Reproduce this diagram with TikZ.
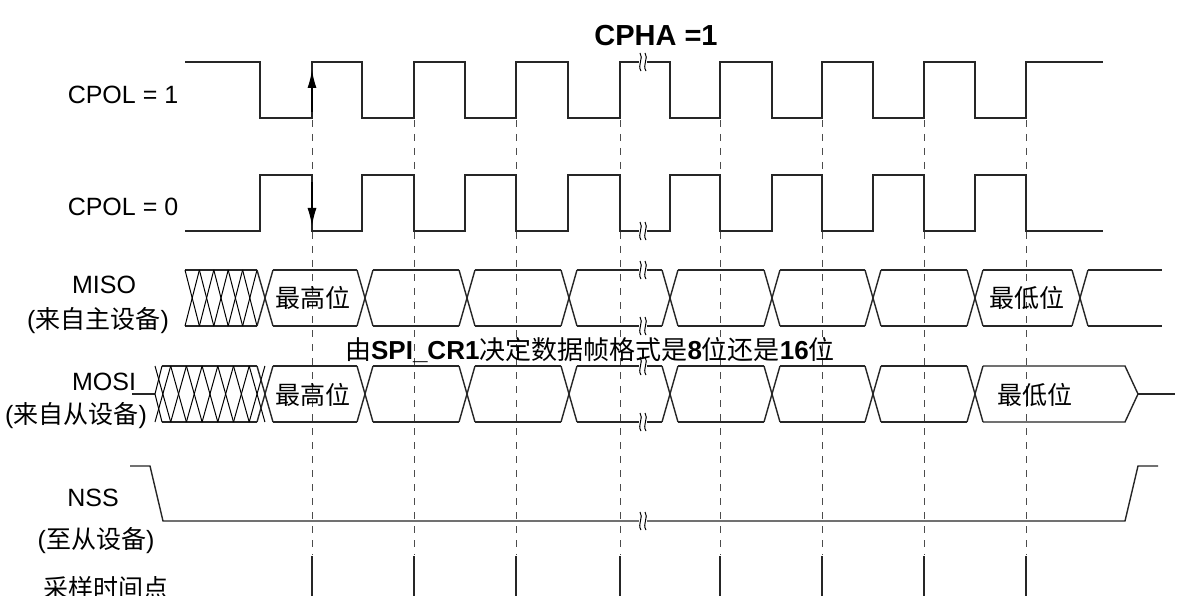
\documentclass[tikz,border=0pt]{standalone}
\usepackage{fontspec}
\usetikzlibrary{arrows.meta}
\setmainfont{Liberation Sans}
\newfontfamily\cjk{Noto Sans CJK SC}
\begin{document}
\begin{tikzpicture}[x=1pt,y=-1pt,
  sig/.style={line width=1.4pt,black!85},
  dsh/.style={dashed,dash pattern=on 7pt off 7pt,line width=1pt,black!70},
  lbl/.style={font=\fontsize{25}{28}\selectfont,inner sep=0pt},
  brk/.style={line width=1pt}]
\useasboundingbox (0,0) rectangle (1192,596);
\fill[white] (0,0) rectangle (1192,596);
% dashed sampling guides
\foreach \x in {312,414,516,620,720,822,924,1026}{
  \draw[dsh] (\x,120) -- (\x,555);
  \draw[sig] (\x,556) -- (\x,596);
}
% CPOL=1
\draw[sig] (185,62) -- (260,62) -- (260,118) -- (312,118) -- (312,62) -- (362,62) -- (362,118) -- (414,118) -- (414,62) -- (465,62) -- (465,118) -- (516,118) -- (516,62) -- (568,62) -- (568,118) -- (620,118) -- (620,62) -- (670,62) -- (670,118) -- (720,118) -- (720,62) -- (772,62) -- (772,118) -- (822,118) -- (822,62) -- (873,62) -- (873,118) -- (924,118) -- (924,62) -- (975,62) -- (975,118) -- (1026,118) -- (1026,62) -- (1103,62);
% CPOL=0
\draw[sig] (185,231) -- (260,231) -- (260,175) -- (312,175) -- (312,231) -- (362,231) -- (362,175) -- (414,175) -- (414,231) -- (465,231) -- (465,175) -- (516,175) -- (516,231) -- (568,231) -- (568,175) -- (620,175) -- (620,231) -- (670,231) -- (670,175) -- (720,175) -- (720,231) -- (772,231) -- (772,175) -- (822,175) -- (822,231) -- (873,231) -- (873,175) -- (924,175) -- (924,231) -- (975,231) -- (975,175) -- (1026,175) -- (1026,231) -- (1103,231);
% arrows
\draw[line width=1.4pt,-{Latex[length=18pt,width=9pt]}] (312,112) -- (312,70);
\draw[line width=1.4pt,-{Latex[length=18pt,width=9pt]}] (312,182) -- (312,226);
% MISO
\draw[sig] (185,270) -- (257,270) (185,326) -- (257,326);
\foreach \k in {0,...,4}{
  \draw[line width=1pt] ({185+14.4*\k},270) -- ({185+14.4*(\k+1)},326);
  \draw[line width=1pt] ({185+14.4*\k},326) -- ({185+14.4*(\k+1)},270);
}
\foreach \t in {265,365,467,569,670,772,873,975,1080}{
  \draw[sig] (\t-8,270) -- (\t+8,326) (\t-8,326) -- (\t+8,270);
}
\foreach \a/\b in {265/365,365/467,467/569,569/670,670/772,772/873,873/975,975/1080}{
  \draw[sig] (\a+8,270) -- (\b-8,270) (\a+8,326) -- (\b-8,326);
}
\draw[sig] (1088,270) -- (1162,270) (1088,326) -- (1162,326);
% MOSI
\draw[sig] (132,394) -- (155,394);
\draw[sig] (162,366) -- (257,366) (162,422) -- (257,422);
\draw[line width=1pt] (155,394) -- (162,366) (155,394) -- (162,422);
\foreach \k in {0,...,6}{
  \draw[line width=1pt] ({155+15.7*\k},366) -- ({155+15.7*(\k+1)},422);
  \draw[line width=1pt] ({155+15.7*\k},422) -- ({155+15.7*(\k+1)},366);
}
\foreach \t in {265,365,467,569,670,772,873,975}{
  \draw[sig] (\t-8,366) -- (\t+8,422) (\t-8,422) -- (\t+8,366);
}
\foreach \a/\b in {265/365,365/467,467/569,569/670,670/772,772/873,873/975}{
  \draw[sig] (\a+8,366) -- (\b-8,366) (\a+8,422) -- (\b-8,422);
}
\draw[sig] (983,366) -- (1125,366) -- (1138,394) -- (1125,422) -- (983,422);
\draw[sig] (1138,394) -- (1175,394);
% NSS
\draw[sig] (130,466) -- (150,466) -- (163,521) -- (1125,521) -- (1138,466) -- (1158,466);
% break marks
\foreach \y in {62,231,270,326,366,422,521}{
  \fill[white] (639,\y-3) rectangle (647,\y+3);
  \draw[brk] (640,\y-9) .. controls (644,\y-4) and (637,\y+3) .. (641,\y+9);
  \draw[brk] (645,\y-9) .. controls (649,\y-4) and (642,\y+3) .. (646,\y+9);
}
% texts
\node[lbl,font=\fontsize{29}{32}\selectfont\bfseries] (cpha) at (656,36) {CPHA =1};
\node[lbl] (c1) at (123,95) {CPOL = 1};
\node[lbl] (c0) at (123,207) {CPOL = 0};
\node[lbl] (miso) at (104,285) {MISO};
\node[lbl] (misos) at (98,321) {({\cjk 来自主设备})};
\node[lbl] (mosi) at (104,382) {MOSI};
\node[lbl] (mosis) at (76,416) {({\cjk 来自从设备})};
\node[lbl] (nss) at (93,498) {NSS};
\node[lbl] (nsss) at (96,541) {({\cjk 至从设备})};
\node[lbl] (samp) at (106,588) {\cjk 采样时间点};
\node[lbl] (m1) at (313,298) {\cjk 最高位};
\node[lbl] (m2) at (1027,298) {\cjk 最低位};
\node[lbl] (o1) at (313,395) {\cjk 最高位};
\node[lbl] (o2) at (1035,395) {\cjk 最低位};
\node[lbl,font=\fontsize{26}{28}\selectfont] (note) at (590,350) {{\cjk 由}\textbf{SPI\_CR1}{\cjk 决定数据帧格式是}\textbf{8}{\cjk 位还是}\textbf{16}{\cjk 位}};
\end{tikzpicture}
\end{document}
